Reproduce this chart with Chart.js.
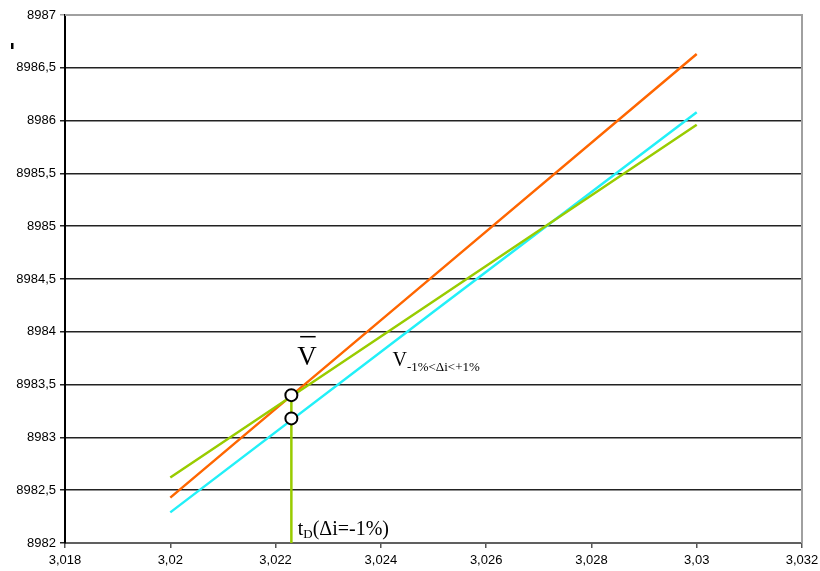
<!DOCTYPE html>
<html>
<head>
<meta charset="utf-8">
<script src="https://cdn.jsdelivr.net/npm/chart.js@4/dist/chart.umd.min.js"></script>
<style>
  html, body { margin: 0; padding: 0; background: #fff; }
  #wrap { width: 820px; height: 571px; }
</style>
</head>
<body>
<div id="wrap"><canvas id="c" width="820" height="571"></canvas></div>
<script>
// Time axis (x) and value axis (y) samples for each curve
const tValues = [3.020, 3.025, 3.030];
const orangeValues = [8982.43, 8984.53, 8986.63];
const cyanValues = [8982.29, 8984.19, 8986.08];
const greenValues = [8982.62, 8984.29, 8985.96];

// Crossing point t_D and the two marked values
const tD = 3.0223;
const markerValues = [8983.40, 8983.18];
const dropLineValues = [8983.40, 8982.0];

// Axis tick ranges
const xTicks = { min: 3.018, max: 3.032, step: 0.002 };
const yTicks = { min: 8982, max: 8987, step: 0.5 };

const toPts = (xs, ys) => xs.map((x, i) => ({ x, y: ys[i] }));
const commaNum = (v, d) => String(Math.round(v * Math.pow(10, d)) / Math.pow(10, d)).replace('.', ',');

const SERIF = '"Liberation Serif", "Times New Roman", serif';

const annotations = {
  id: 'annotations',
  afterDraw(chart) {
    const { ctx, chartArea: a, scales: { x, y } } = chart;
    ctx.save();
    // plot frame: top and right edges in grey
    ctx.strokeStyle = '#a0a0a0';
    ctx.lineWidth = 2;
    ctx.beginPath();
    ctx.moveTo(a.left, a.top);
    ctx.lineTo(a.right, a.top);
    ctx.lineTo(a.right, a.bottom);
    ctx.stroke();

    ctx.fillStyle = '#000';
    ctx.textBaseline = 'alphabetic';
    ctx.textAlign = 'left';

    // V with an overline
    let px = x.getPixelForValue(3.02241), py = y.getPixelForValue(8983.686);
    ctx.font = '27px ' + SERIF;
    ctx.fillText('V', px, py);
    const vw = ctx.measureText('V').width;
    ctx.fillRect(px + 3, py - 29, vw - 4, 1.5);

    // V with range subscript
    px = x.getPixelForValue(3.02422); py = y.getPixelForValue(8983.676);
    ctx.font = '20px ' + SERIF;
    ctx.fillText('V', px, py);
    let w = ctx.measureText('V').width;
    ctx.font = '13px ' + SERIF;
    ctx.fillText('-1%<\u0394i<+1%', px + w, py + 5);

    // t_D label
    px = x.getPixelForValue(3.02242); py = y.getPixelForValue(8982.08);
    ctx.font = '20px ' + SERIF;
    ctx.fillText('t', px, py);
    w = ctx.measureText('t').width;
    ctx.font = '13px ' + SERIF;
    ctx.fillText('D', px + w, py + 3);
    const w2 = ctx.measureText('D').width;
    ctx.font = '20px ' + SERIF;
    ctx.fillText('(\u0394i=-1%)', px + w + w2, py);

    // small axis title mark
    ctx.fillRect(11, 43, 2.5, 6);
    ctx.restore();
  }
};

new Chart(document.getElementById('c'), {
  type: 'scatter',
  data: {
    datasets: [
      { data: toPts(tValues, orangeValues), showLine: true, borderColor: '#FF6600', borderWidth: 2.5, pointRadius: 0, order: 3 },
      { data: toPts(tValues, cyanValues), showLine: true, borderColor: '#22F0F8', borderWidth: 2.5, pointRadius: 0, order: 4 },
      { data: toPts(tValues, greenValues), showLine: true, borderColor: '#99CC00', borderWidth: 2.5, pointRadius: 0, order: 2 },
      { data: toPts([tD, tD], dropLineValues), showLine: true, borderColor: '#99CC00', borderWidth: 2.5, pointRadius: 0, order: 1 },
      { data: toPts([tD, tD], markerValues), showLine: false, pointRadius: 6, pointBackgroundColor: '#fff', pointBorderColor: '#000', pointBorderWidth: 2, order: 0 }
    ]
  },
  options: {
    responsive: false,
    animation: false,
    clip: false,
    layout: { padding: { top: 15, right: 18, left: 0, bottom: 0 } },
    plugins: { legend: { display: false }, tooltip: { enabled: false } },
    scales: {
      x: {
        type: 'linear',
        min: xTicks.min, max: xTicks.max,
        ticks: {
          stepSize: xTicks.step,
          color: '#000',
          font: { family: '"Liberation Sans", Arial, sans-serif', size: 13 },
          padding: 5,
          callback: v => commaNum(v, 3)
        },
        grid: { drawOnChartArea: false, color: '#555', tickLength: 5, lineWidth: 1.5 },
        border: { color: '#606060', width: 2 },
        afterFit(s) { s.height = 28; s.paddingLeft = 0; s.paddingRight = 0; }
      },
      y: {
        type: 'linear',
        min: yTicks.min, max: yTicks.max,
        ticks: {
          stepSize: yTicks.step,
          color: '#000',
          font: { family: '"Liberation Sans", Arial, sans-serif', size: 13 },
          padding: 4,
          callback: v => commaNum(v, 1)
        },
        grid: {
          color: ctx => (ctx.tick && ctx.tick.value === yTicks.max) ? '#a0a0a0' : '#222',
          lineWidth: 1.5,
          tickLength: 5
        },
        border: { color: '#000', width: 2 },
        afterFit(s) { s.width = 65; s.paddingTop = 0; s.paddingBottom = 0; }
      }
    }
  },
  plugins: [annotations]
});
</script>
</body>
</html>
